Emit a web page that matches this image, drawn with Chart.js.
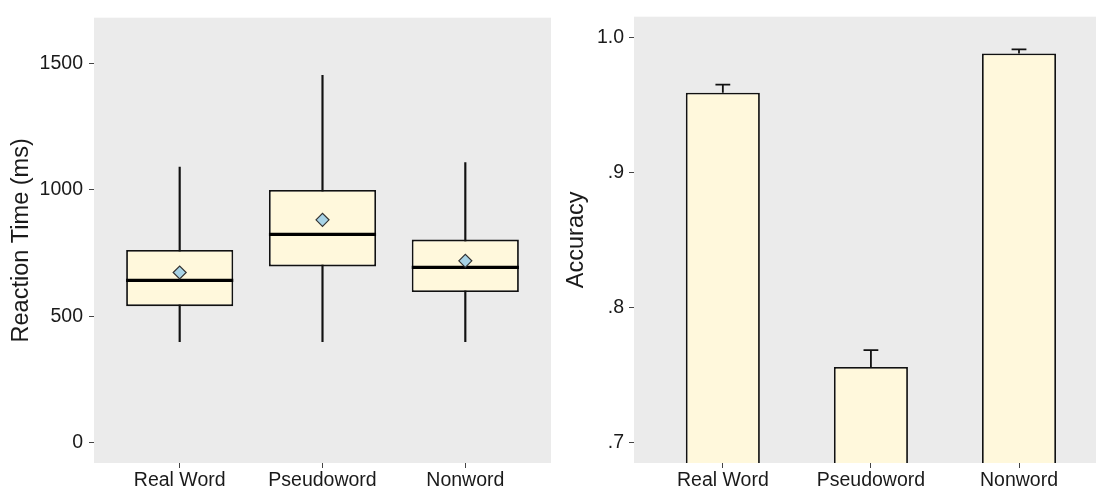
<!DOCTYPE html>
<html>
<head>
<meta charset="utf-8">
<script src="https://cdn.jsdelivr.net/npm/chart.js@4.4.0/dist/chart.umd.min.js"></script>
<style>
  html, body { margin: 0; padding: 0; background: #fff; overflow: hidden; }
  #wrap { position: relative; width: 1096px; height: 491px; }
  #rtChart { position: absolute; left: 0; top: 0; }
  #accChart { position: absolute; left: 551px; top: 0; }
</style>
</head>
<body>
<div id="wrap">
  <canvas id="rtChart" width="551" height="491"></canvas>
  <canvas id="accChart" width="545" height="491"></canvas>
</div>
<script>
const categories = ['Real Word', 'Pseudoword', 'Nonword'];

// reaction time box plot (ms)
const rtMin = [400, 400, 400];
const rtQ1 = [540, 697, 596];
const rtMedian = [642, 824, 693];
const rtQ3 = [762, 999, 803];
const rtMax = [1090, 1452, 1107];
const rtMean = [673, 881, 719];
const rtTicks = [0, 500, 1000, 1500];

// accuracy means + upper error bar
const accMean = [0.959, 0.756, 0.988];
const accErr = [0.006, 0.0125, 0.003];
const accTicks = [0.7, 0.8, 0.9, 1.0];

const FILL = '#FFF8DC';
const PANEL = '#EBEBEB';
const INK = '#1a1a1a';

Chart.defaults.font.family = "'Liberation Sans', Arial, sans-serif";
Chart.defaults.color = INK;
Chart.defaults.animation = false;

// grey ggplot-style panel behind the plot area
const panelBg = {
    id: 'panelBg',
    beforeDraw(chart) {
        const a = chart.chartArea;
        const ctx = chart.ctx;
        ctx.save();
        ctx.fillStyle = PANEL;
        ctx.fillRect(a.left, a.top, a.right - a.left, a.bottom - a.top);
        ctx.restore();
    }
};

// thick median line drawn right after the boxes
const medianLines = {
    id: 'medianLines',
    afterDatasetDraw(chart, args) {
        if (args.index !== 1) return;
        const ctx = chart.ctx;
        const y = chart.scales.y;
        ctx.save();
        ctx.strokeStyle = '#000';
        ctx.lineWidth = 3.2;
        args.meta.data.forEach((el, i) => {
            const py = y.getPixelForValue(rtMedian[i]);
            ctx.beginPath();
            ctx.moveTo(el.x - el.width / 2, py);
            ctx.lineTo(el.x + el.width / 2, py);
            ctx.stroke();
        });
        ctx.restore();
    }
};

// upper error bars on the accuracy bars
const errorBars = {
    id: 'errorBars',
    afterDatasetsDraw(chart) {
        const ctx = chart.ctx;
        const y = chart.scales.y;
        const meta = chart.getDatasetMeta(0);
        ctx.save();
        ctx.strokeStyle = '#111';
        ctx.lineWidth = 1.8;
        meta.data.forEach((el, i) => {
            const top = y.getPixelForValue(accMean[i] + accErr[i]);
            const cap = el.width * 0.1;
            ctx.beginPath();
            ctx.moveTo(el.x, el.y);
            ctx.lineTo(el.x, top);
            ctx.moveTo(el.x - cap, top);
            ctx.lineTo(el.x + cap, top);
            ctx.stroke();
        });
        ctx.restore();
    }
};

function tickGrid() {
    return {
        drawOnChartArea: false,
        drawTicks: true,
        tickLength: 5,
        tickColor: '#444',
        tickWidth: 1,
        offset: false
    };
}

function xAxis(max) {
    return {
        type: 'linear',
        min: -0.6,
        max: max,
        offset: false,
        grid: tickGrid(),
        border: { display: false },
        afterBuildTicks: scale => { scale.ticks = categories.map((c, i) => ({ value: i })); },
        afterFit: scale => { scale.height = 28; },
        ticks: {
            autoSkip: false,
            maxRotation: 0,
            padding: 1,
            color: INK,
            font: { size: 19.5 },
            callback: v => categories[v]
        }
    };
}

// left panel: reaction time box plot
new Chart(document.getElementById('rtChart'), {
    type: 'bar',
    data: {
        datasets: [
            {
                type: 'line',
                label: 'mean',
                order: 0,
                data: rtMean.map((v, i) => ({ x: i, y: v })),
                showLine: false,
                pointStyle: 'rectRot',
                pointRadius: 6.5,
                pointBackgroundColor: '#A8D3E6',
                pointBorderColor: '#333',
                pointBorderWidth: 1.2
            },
            {
                label: 'box',
                order: 1,
                data: rtQ1.map((v, i) => ({ x: i, y: [v, rtQ3[i]] })),
                backgroundColor: FILL,
                borderColor: '#111',
                borderWidth: 1.8,
                borderSkipped: false,
                grouped: false,
                categoryPercentage: 1,
                barPercentage: 0.75
            },
            {
                label: 'whisker',
                order: 2,
                data: rtMin.map((v, i) => ({ x: i, y: [v, rtMax[i]] })),
                backgroundColor: '#111',
                borderWidth: 0,
                grouped: false,
                barThickness: 1.5,
                maxBarThickness: 1.5
            }
        ]
    },
    options: {
        responsive: false,
        layout: { autoPadding: false, padding: { top: 14, right: 0, bottom: 0, left: 0 } },
        plugins: { legend: { display: false }, tooltip: { enabled: false } },
        scales: {
            x: xAxis(2.6),
            y: {
                min: -80,
                max: 1680,
                beginAtZero: false,
                grid: tickGrid(),
                border: { display: false },
                afterBuildTicks: scale => { scale.ticks = rtTicks.map(v => ({ value: v })); },
                afterFit: scale => { scale.width = 94; },
                ticks: { padding: 6, color: INK, font: { size: 19.5 }, callback: v => String(v) },
                title: {
                    display: true,
                    text: 'Reaction Time (ms)',
                    color: INK,
                    font: { size: 23.5 },
                    padding: { top: 7, bottom: 0 }
                }
            }
        }
    },
    plugins: [panelBg, medianLines]
});

// right panel: accuracy bars
new Chart(document.getElementById('accChart'), {
    type: 'bar',
    data: {
        datasets: [{
            label: 'accuracy',
            data: accMean.map((v, i) => ({ x: i, y: v })),
            backgroundColor: FILL,
            borderColor: '#111',
            borderWidth: 1.8,
            borderSkipped: 'start',
            categoryPercentage: 1,
            barPercentage: 0.5
        }]
    },
    options: {
        responsive: false,
        layout: { autoPadding: false, padding: { top: 14, right: 0, bottom: 0, left: 0 } },
        plugins: { legend: { display: false }, tooltip: { enabled: false } },
        scales: {
            x: xAxis(2.52),
            y: {
                min: 0.685,
                max: 1.0152,
                beginAtZero: false,
                grid: tickGrid(),
                border: { display: false },
                afterBuildTicks: scale => { scale.ticks = accTicks.map(v => ({ value: v })); },
                afterFit: scale => { scale.width = 83; },
                ticks: {
                    padding: 5,
                    color: INK,
                    font: { size: 19.5 },
                    callback: v => v >= 0.999 ? '1.0' : '.' + Math.round(v * 10)
                },
                title: {
                    display: true,
                    text: 'Accuracy',
                    color: INK,
                    font: { size: 23.5 },
                    padding: { top: 11, bottom: 0 }
                }
            }
        }
    },
    plugins: [panelBg, errorBars]
});
</script>
</body>
</html>
